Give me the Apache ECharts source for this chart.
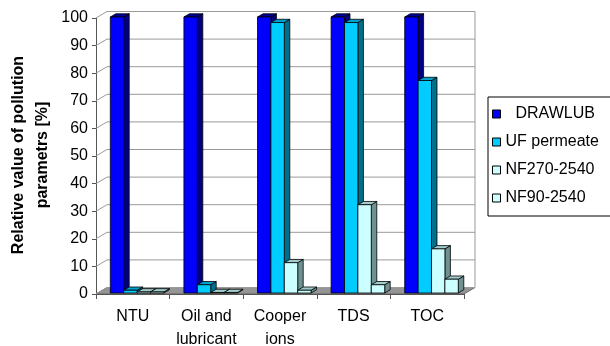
<!DOCTYPE html>
<html>
<head>
<meta charset="utf-8">
<script src="https://cdn.jsdelivr.net/npm/echarts@6/dist/echarts.min.js"></script>
<style>html,body{margin:0;padding:0;background:#fff;}#c{width:610px;height:346px;}</style>
</head>
<body>
<div id="c"></div>
<script>
// ---- data ----
const categories = ['NTU', 'Oil and\nlubricant', 'Cooper\nions', 'TDS', 'TOC'];
const seriesNames = ['DRAWLUB', 'UF permeate', 'NF270-2540', 'NF90-2540'];
const drawlub = [100, 100, 100, 100, 100];
const ufPermeate = [1, 3, 98, 98, 77];
const nf270 = [0.4, 0.2, 11, 32, 16];
const nf90 = [0.4, 0.2, 1, 3, 5];
const yTicks = [0, 10, 20, 30, 40, 50, 60, 70, 80, 90, 100];
const yAxisTitle = 'Relative value of pollution\nparametrs [%]';

// ---- styling ----
const FONT = 'Liberation Sans, Arial, sans-serif';
const DX = 11, DY = -6.5;      // depth vector of the 3D box
const F1 = 0.15, F2 = 0.65;    // bar depth range (fraction of box depth)
const palette = [
  {front: '#0000FF', top: '#000099', side: '#000080'},
  {front: '#00CCFF', top: '#009ECC', side: '#006F8C'},
  {front: '#CCFFFF', top: '#A0CCCC', side: '#6E9191'},
  {front: '#CCFFFF', top: '#A0CCCC', side: '#6E9191'}
];
const seriesValues = [drawlub, ufPermeate, nf270, nf90];

function barRender(si) {
  const col = palette[si];
  return function (params, api) {
    const c = api.value(0), v = api.value(1);
    const catW = api.size([1, 0])[0];
    const base = api.coord([c, 0]);
    const top = api.coord([c, v]);
    const bw = catW * 0.182;
    const x0 = base[0] - 2 * bw + si * bw + catW * 0.036 + F1 * DX;
    const y0 = base[1] + F1 * DY;
    const y1 = top[1] + F1 * DY;
    const ddx = (F2 - F1) * DX, ddy = (F2 - F1) * DY;
    const st = {stroke: '#000', lineWidth: 0.8};
    return {
      type: 'group',
      children: [
        {type: 'polygon', shape: {points: [[x0 + bw, y1], [x0 + bw + ddx, y1 + ddy], [x0 + bw + ddx, y0 + ddy], [x0 + bw, y0]]},
          style: Object.assign({fill: col.side}, st)},
        {type: 'polygon', shape: {points: [[x0, y1], [x0 + bw, y1], [x0 + bw + ddx, y1 + ddy], [x0 + ddx, y1 + ddy]]},
          style: Object.assign({fill: col.top}, st)},
        {type: 'rect', shape: {x: x0, y: y1, width: bw, height: y0 - y1},
          style: Object.assign({fill: col.front}, st)}
      ]
    };
  };
}

function wallRender(params, api) {
  const cs = params.coordSys;
  const v = api.value(1);
  const y = api.coord([0, v])[1];
  const x = cs.x, w = cs.width;
  const children = [
    {type: 'line', shape: {x1: x + DX, y1: y + DY, x2: x + w + DX, y2: y + DY}, style: {stroke: '#9a9a9a', lineWidth: 1}},
    {type: 'line', shape: {x1: x, y1: y, x2: x + DX, y2: y + DY}, style: {stroke: '#9a9a9a', lineWidth: 1}}
  ];
  if (v === yTicks[yTicks.length - 1]) {
    const yb = api.coord([0, yTicks[0]])[1];
    children.push({type: 'line', shape: {x1: x + w + DX, y1: y + DY, x2: x + w + DX, y2: yb + DY}, style: {stroke: '#9a9a9a', lineWidth: 1}});
  }
  if (v === yTicks[0]) {
    children.unshift({type: 'polygon', shape: {points: [[x, y], [x + w, y], [x + w + DX, y + DY], [x + DX, y + DY]]},
      style: {fill: '#959595', stroke: '#555', lineWidth: 0.8}});
  }
  return {type: 'group', children: children};
}

const series = [{
  type: 'custom', name: 'wall', silent: true, z: 1,
  renderItem: wallRender,
  data: yTicks.map(v => [0, v]),
  encode: {x: 0, y: 1}
}];
seriesNames.forEach((n, si) => {
  series.push({
    type: 'custom', name: n, silent: true, z: 2 + si,
    itemStyle: {color: palette[si].front},
    renderItem: barRender(si),
    data: seriesValues[si].map((v, i) => [i, v]),
    encode: {x: 0, y: 1}
  });
});

const chart = echarts.init(document.getElementById('c'), null, {renderer: 'canvas'});
chart.setOption({
  animation: false,
  backgroundColor: '#fff',
  grid: {left: 96, right: 146, top: 18, bottom: 52, containLabel: false, outerBoundsMode: 'none'},
  graphic: [{
    type: 'text', x: 31, y: 155, rotation: Math.PI / 2, silent: true,
    style: {text: yAxisTitle, font: 'bold 16px ' + FONT, fill: '#000',
      align: 'center', verticalAlign: 'middle', lineHeight: 24}
  }],
  xAxis: {
    type: 'category', data: categories,
    axisLine: {show: true, lineStyle: {color: '#555', width: 1}},
    axisTick: {show: true, length: 5, alignWithLabel: false, lineStyle: {color: '#555'}},
    axisLabel: {fontSize: 16, color: '#000', fontFamily: FONT, lineHeight: 23, margin: 11, interval: 0},
    splitLine: {show: false}
  },
  yAxis: {
    type: 'value', min: 0, max: 100, interval: 10,
    axisLine: {show: true, lineStyle: {color: '#555', width: 1}},
    axisTick: {show: true, length: 4, lineStyle: {color: '#555'}},
    axisLabel: {fontSize: 16, color: '#000', fontFamily: FONT, margin: 8},
    splitLine: {show: false}
  },
  legend: {
    orient: 'vertical', left: 488, top: 97,
    selectedMode: false,
    data: seriesNames.map((n, i) => i === 0 ? {name: n, textStyle: {padding: [0, 0, 0, 10]}} : {name: n}),
    icon: 'rect', itemWidth: 8, itemHeight: 8, itemGap: 12, itemTextGap: 4,
    itemStyle: {borderColor: '#000', borderWidth: 1},
    textStyle: {fontSize: 16, color: '#000', fontFamily: FONT},
    borderColor: '#000', borderWidth: 1, padding: [9, 40, 10, 4],
    backgroundColor: '#fff'
  },
  series: series
});
</script>
</body>
</html>
